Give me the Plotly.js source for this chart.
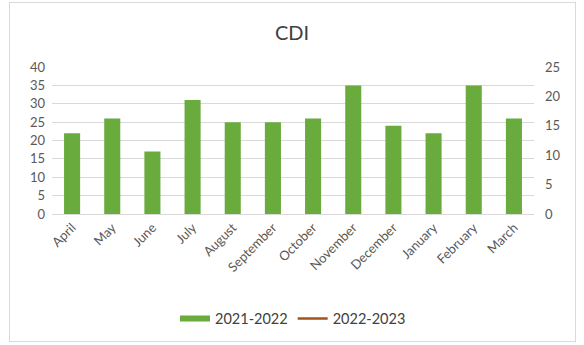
<!DOCTYPE html>
<html>
<head>
<meta charset="utf-8">
<script src="https://cdn.plot.ly/plotly-3.0.1.min.js"></script>
<style>
html,body{margin:0;padding:0;background:#fff;}
#wrap{position:relative;width:584px;height:345px;}
#chart{width:584px;height:345px;}
#frame{position:absolute;left:9px;top:2px;width:565px;height:338px;border:1px solid #d9d9d9;pointer-events:none;}
</style>
</head>
<body>
<div id="wrap"><div id="chart"></div><div id="frame"></div></div>
<script>
const months = ["April","May","June","July","August","September","October","November","December","January","February","March"];
const series2021 = [22, 26, 17, 31, 25, 25, 26, 35, 24, 22, 35, 26];
const series2022 = [null, null, null, null, null, null, null, null, null, null, null, null];
const leftTicks = [0,5,10,15,20,25,30,35,40];
const rightTicks = [0,5,10,15,20,25];

const green = '#6aab3d';
const brown = '#a5521b';
const traces = [
  {type:'bar', name:'2021-2022', x:months, y:series2021, marker:{color:green}, yaxis:'y', showlegend:false, legendgroup:'a'},
  // legend proxy for the bar series (wide flat swatch, as in the reference)
  {type:'scatter', mode:'lines', name:'2021-2022', x:months, y:series2022, line:{color:green, width:6}, yaxis:'y', legendgroup:'a'},
  {type:'scatter', mode:'lines', name:'2022-2023', x:months, y:series2022, line:{color:brown, width:2.5}, yaxis:'y2'}
];
const font = {family:'Lato, "Open Sans", sans-serif', color:'#595959', size:13};
const layout = {
  width:584, height:345,
  margin:{l:52, r:50, t:67, b:130},
  paper_bgcolor:'#fff', plot_bgcolor:'#fff',
  font:font,
  title:{text:'CDI', font:{family:'Lato, "Open Sans", sans-serif', size:20, color:'#404040'}, x:0.5, xanchor:'center', y:0.905, yanchor:'middle'},
  bargap:0.6,
  showlegend:true,
  legend:{orientation:'h', x:0.5, xanchor:'center', y:-0.70, yanchor:'middle', font:{size:14.5, color:'#404040'}, itemwidth:30, tracegroupgap:0},
  xaxis:{type:'category', tickangle:-45, showgrid:false, showline:true, linecolor:'#d9d9d9', ticks:'', tickfont:{size:13, color:'#595959'}},
  yaxis:{range:[0,40], tickvals:leftTicks, showgrid:true, gridcolor:'#d9d9d9', zeroline:false, showline:false, ticks:'', tickfont:{size:13, color:'#595959'}, ticklabelstandoff:6},
  yaxis2:{range:[0,25], tickvals:rightTicks, overlaying:'y', side:'right', showgrid:false, zeroline:false, showline:false, ticks:'', tickfont:{size:13, color:'#595959'}, ticklabelstandoff:10}
};
Plotly.newPlot('chart', traces, layout, {displayModeBar:false, staticPlot:true});
</script>
</body>
</html>
